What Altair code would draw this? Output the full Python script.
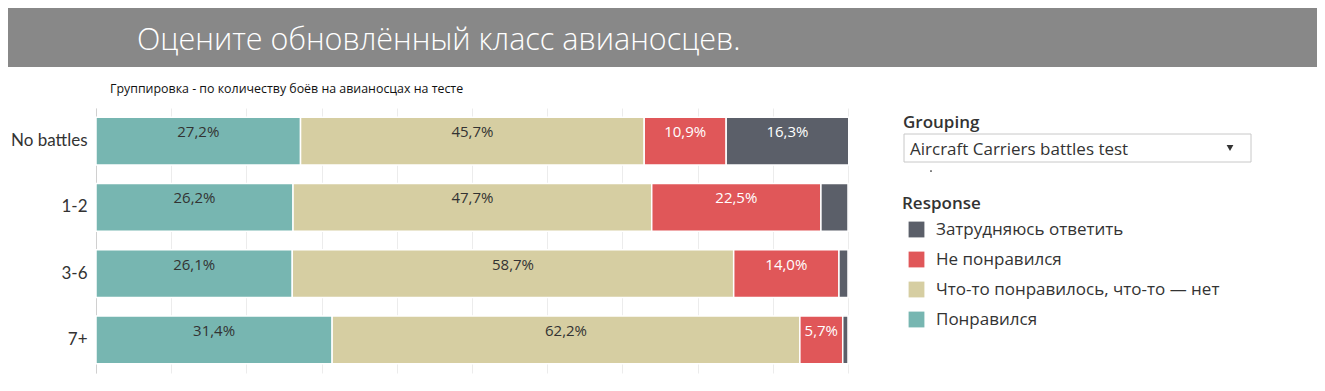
import altair as alt
import pandas as pd

# ---- data ----
GROUPS = ["No battles", "1-2", "3-6", "7+"]
STACK_ORDER = ["Понравился", "Что-то понравилось, что-то — нет", "Не понравился", "Затрудняюсь ответить"]
LIKED = [27.2, 26.2, 26.1, 31.4]
MIXED = [45.7, 47.7, 58.7, 62.2]
DISLIKED = [10.9, 22.5, 14.0, 5.7]
UNSURE = [16.3, 3.6, 1.2, 0.7]
LEGEND_ORDER = ["Затрудняюсь ответить", "Не понравился", "Что-то понравилось, что-то — нет", "Понравился"]
COLORS = ["#5b5f69", "#e05759", "#d6cea2", "#77b6b1"]
GRID_TICKS = [0, 10, 20, 30, 40, 50, 60, 70, 80, 90, 100]

TITLE = "Оцените обновлённый класс авианосцев."
SUBTITLE = "Группировка - по количеству боёв на авианосцах на тесте"
GROUPING_TITLE = "Grouping"
GROUPING_VALUE = "Aircraft Carriers battles test"
LEGEND_TITLE = "Response"

series = [LIKED, MIXED, DISLIKED, UNSURE]
rows = []
for k, resp in enumerate(STACK_ORDER):
    for i, g in enumerate(GROUPS):
        rows.append({"group": g, "response": resp, "value": series[k][i], "ord": k})
df = pd.DataFrame(rows)

FONT = "Open Sans"
TXT = "#333333"

base = alt.Chart(df)

bars = base.mark_bar(stroke="white", strokeWidth=1.5).encode(
    x=alt.X("value:Q", stack="zero",
            scale=alt.Scale(domain=[0, 100], nice=False),
            axis=alt.Axis(title=None, labels=False, ticks=False, domain=False,
                          grid=True, values=GRID_TICKS, gridColor="#ececec")),
    y=alt.Y("group:N", sort=GROUPS,
            scale=alt.Scale(paddingInner=0.276, paddingOuter=0.138),
            axis=alt.Axis(title=None, ticks=False, labelFontSize=17, labelFont="Lato",
                          labelColor=TXT, labelPadding=9, domainColor="#d0d0d0", grid=False)),
    color=alt.Color("response:N",
                    scale=alt.Scale(domain=LEGEND_ORDER, range=COLORS),
                    legend=alt.Legend(title=LEGEND_TITLE, orient="none", legendX=806, legendY=88,
                                      symbolType="square", symbolSize=250, symbolStrokeWidth=0,
                                      symbolOpacity=1, symbolOffset=6,
                                      labelFontSize=17, labelFont=FONT, labelColor=TXT,
                                      labelLimit=400, labelOffset=11,
                                      titleFontSize=17, titleFont=FONT, titleFontWeight=600,
                                      titleColor=TXT, titlePadding=8, rowPadding=12)),
    order=alt.Order("ord:Q", sort="ascending"),
)

labels = base.transform_stack(
    stack="value", groupby=["group"],
    sort=[alt.SortField("ord", order="ascending")], as_=["x0", "x1"]
).transform_calculate(
    mid="(datum.x0 + datum.x1) / 2",
    lab="replace(format(datum.value, '.1f'), '.', ',') + '%'"
).transform_filter("datum.value >= 5").mark_text(dy=-9, fontSize=15, font=FONT).encode(
    x=alt.X("mid:Q"),
    y=alt.Y("group:N", sort=GROUPS),
    text="lab:N",
    color=alt.condition("datum.ord >= 2", alt.value("white"), alt.value(TXT)),
)

one = pd.DataFrame({"t": [TITLE], "s": [SUBTITLE], "g": [GROUPING_TITLE], "v": [GROUPING_VALUE]})
deco = alt.Chart(one)

banner = deco.mark_rect(color="#888888").encode(
    x=alt.value(-88), x2=alt.value(1221), y=alt.value(-100), y2=alt.value(-41))
title = deco.mark_text(align="left", baseline="alphabetic", fontSize=30.5, font=FONT,
                       fontWeight=300, color="white").encode(
    x=alt.value(41), y=alt.value(-58), text="t:N")
subtitle = deco.mark_text(align="left", baseline="alphabetic", fontSize=12.4,
                          font=FONT, color="#111111").encode(
    x=alt.value(14), y=alt.value(-15), text="s:N")
grp_title = deco.mark_text(align="left", baseline="alphabetic", fontSize=17, font=FONT,
                           fontWeight=600, color=TXT).encode(
    x=alt.value(807), y=alt.value(20), text="g:N")
box = deco.mark_rect(fill="white", stroke="#c8c8c8", strokeWidth=1).encode(
    x=alt.value(808), x2=alt.value(1155), y=alt.value(26), y2=alt.value(54))
box_text = deco.mark_text(align="left", baseline="alphabetic", fontSize=17, font=FONT,
                          color=TXT).encode(
    x=alt.value(814), y=alt.value(47), text="v:N")
arrow = deco.mark_point(shape="triangle-down", filled=True, size=45, color=TXT, opacity=1).encode(
    x=alt.value(1134), y=alt.value(40))
dot = deco.mark_point(shape="circle", filled=True, size=3, color="#222222", opacity=1).encode(
    x=alt.value(835), y=alt.value(63))

chart = alt.layer(banner, title, subtitle, bars, labels, grp_title, box, box_text, arrow, dot).properties(
    width=752, height=265,
    padding={"left": 88, "top": 100, "right": 469, "bottom": 8},
    autosize=alt.AutoSizeParams(type="none"),
).configure_view(stroke=None)

chart.save("out.html", embed_options={"renderer": "svg", "actions": False})
